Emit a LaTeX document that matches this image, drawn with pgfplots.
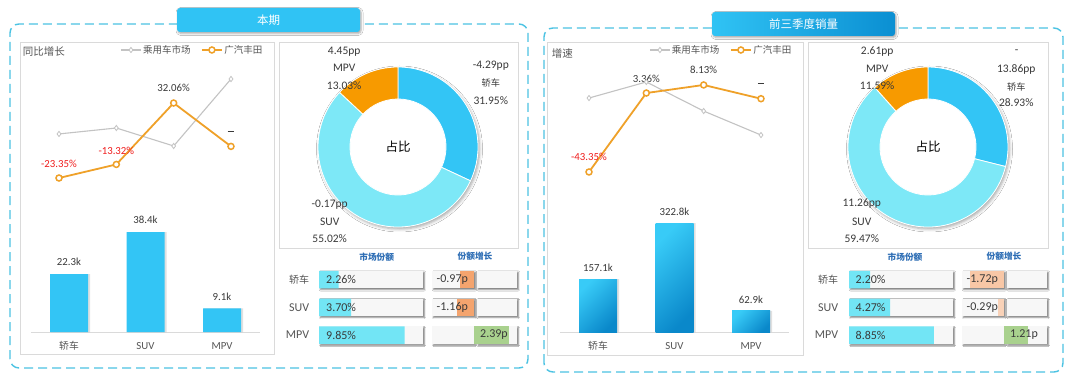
\documentclass[border=0pt]{standalone}
\usepackage{pgfplots}
\pgfplotsset{compat=1.18}
\usepackage{pgfplotstable}
\usepackage{fontspec}
\setmainfont{Carlito}
\newfontfamily\cjk{Noto Sans CJK SC}
\usetikzlibrary{shadows.blur}

\definecolor{cBlue}{HTML}{33C5F5}
\definecolor{cCyan}{HTML}{7DE8F7}
\definecolor{cOrange}{HTML}{F79A00}
\definecolor{lineOrange}{HTML}{EFA129}
\definecolor{lineGray}{HTML}{C3C3C3}
\definecolor{dashC}{HTML}{4CC3E3}
\definecolor{txt}{HTML}{3A3A3A}
\definecolor{txtL}{HTML}{555555}
\definecolor{hdr}{HTML}{2E6EB5}
\definecolor{shareC}{HTML}{72E5F5}
\definecolor{negA}{HTML}{F4A46E}
\definecolor{negB}{HTML}{F8C7A6}
\definecolor{negC}{HTML}{F9D2B8}
\definecolor{posG}{HTML}{A9D18E}
\definecolor{boxBG}{HTML}{F7F7F7}
\definecolor{panelB}{HTML}{DADADA}
\definecolor{titleA}{HTML}{30C3F4}
\definecolor{titleB}{HTML}{0B8FD2}
\definecolor{barL}{HTML}{38CBF7}
\definecolor{barD}{HTML}{0A88CA}
\definecolor{redL}{HTML}{F01E1E}

\newcommand{\fs}[1]{\fontsize{#1}{#1}\selectfont}
\newcommand{\emd}{\rule[2.6pt]{6.5pt}{0.9pt}}

% ---------------- data ----------------
\pgfplotstableread{
x mkt gac
0 9.2 -23.35
1 13.6 -13.32
2 0.3 32.06
3 49.8 0
}\lineA
\pgfplotstableread{
x mkt gac
0 0.4 -43.35
1 9.9 3.36
2 -7.3 8.13
3 -21.5 0
}\lineB

% donut shares (%)
\pgfmathsetmacro\LaA{90}
\pgfmathsetmacro\LaB{90-3.6*31.95}
\pgfmathsetmacro\LaC{\LaB-3.6*55.02}
\pgfmathsetmacro\LaD{\LaC-3.6*13.03}
\pgfmathsetmacro\RaA{90}
\pgfmathsetmacro\RaB{90-3.6*28.93}
\pgfmathsetmacro\RaC{\RaB-3.6*59.47}
\pgfmathsetmacro\RaD{\RaC-3.6*11.59}

\newcommand{\slice}[3]{%
  \fill[#3, draw=white, line width=0.8pt] ([shift={(#1:80pt)}]axis cs:0,0) arc[start angle=#1, end angle=#2, radius=80pt] -- ([shift={(#2:48pt)}]axis cs:0,0) arc[start angle=#2, end angle=#1, radius=48pt] -- cycle;}

\tikzset{
  tbox/.style={fill=boxBG, blur shadow={shadow xshift=1.4pt, shadow yshift=-1.4pt, shadow blur radius=1.4pt, shadow opacity=50}},
  dashbox/.style={dashC, line width=1.4pt, dash pattern=on 9pt off 5pt, rounded corners=9pt},
  panel/.style={draw=panelB, line width=0.6pt, fill=white},
}

\pgfplotsset{
  lchart/.style={anchor=south west, scale only axis, width=172pt, xmin=0, xmax=3, hide axis, clip=false,
    legend columns=2,
    legend style={draw=none, fill=none, inner sep=0pt, font=\cjk\fs{9.5}, text=txtL,
      /tikz/every even column/.append style={column sep=9pt}, nodes={inner sep=1.5pt}},
    legend image code/.code={\draw[mark repeat=2, mark phase=2, ##1] plot coordinates {(0pt,0pt) (10pt,0pt) (20pt,0pt)};}},
  mktline/.style={lineGray, line width=1.1pt, mark=diamond*, mark size=2.6pt, mark options={fill=white, draw=lineGray, line width=0.8pt}},
  gacline/.style={lineOrange, line width=1.8pt, mark=*, mark size=3pt, mark options={fill=white, draw=lineOrange, line width=1.5pt}},
  bchart/.style={anchor=south west, scale only axis, width=229.5pt, xmin=-0.5, xmax=2.5, ymin=0, hide axis, clip=false},
  tchart/.style={anchor=south west, scale only axis, height=83.25pt, ymin=-0.5, ymax=2.5, hide axis, clip=false},
  tbar/.style={xbar, bar width=17.5pt, bar shift=0pt, draw=none},
  dchart/.style={anchor=center, scale only axis, width=160pt, height=160pt, xmin=-1, xmax=1, ymin=-1, ymax=1, hide axis, clip=false},
}

\begin{document}
\begin{tikzpicture}[x=1pt,y=1pt]
\path[use as bounding box] (0,0) rectangle (1080,381);
\fill[white] (0,0) rectangle (1080,381);

% ---------- frames ----------
\draw[dashbox] (10,13) rectangle (528,357);
\draw[dashbox] (544,9) rectangle (1063,353);

\fill[titleA, rounded corners=3pt, blur shadow={shadow xshift=1pt, shadow yshift=-1.5pt, shadow blur radius=2pt, shadow opacity=35}] (177,349) rectangle (360,373);
\node[white, font=\cjk\fs{11.5}] at (268.5,361) {本期};
\shade[left color=titleA, right color=titleB, rounded corners=3pt, blur shadow={shadow xshift=1pt, shadow yshift=-1.5pt, shadow blur radius=2pt, shadow opacity=35}] (712,345) rectangle (895,369);
\node[white, font=\cjk\fs{11.5}] at (803.5,357) {前三季度销量};

\draw[panel] (20,27) rectangle (274,339);
\draw[panel] (279,133) rectangle (518,339);
\draw[panel] (547,26) rectangle (803,339);
\draw[panel] (808,133) rectangle (1048,339);

\node[anchor=west, inner sep=0pt, font=\cjk\fs{10.5}, text=txtL] at (22.7,329) {同比增长};
\node[anchor=west, inner sep=0pt, font=\cjk\fs{10.5}, text=txtL] at (551.7,327.7) {增速};

% ---------- left line chart ----------
\begin{axis}[lchart, at={(59pt,194pt)}, height=121.8pt, ymin=-30, ymax=60,
  legend style={at={(1.192,1.125)}, anchor=east}]
\addplot[mktline] table[x=x,y=mkt]{\lineA};
\addlegendentry{乘用车市场}
\addplot[gacline] table[x=x,y=gac]{\lineA};
\addlegendentry{广汽丰田}
\node[font=\fs{10.8}, text=redL] at ([yshift=14pt]axis cs:0,-23.35) {-23.35\%};
\node[font=\fs{10.8}, text=redL] at ([yshift=14pt]axis cs:1,-13.32) {-13.32\%};
\node[font=\fs{10.8}, text=txt] at ([yshift=14.7pt]axis cs:2,32.06) {32.06\%};
\node[font=\fs{10.8}, text=txt] at ([yshift=14pt]axis cs:3,0) {\emd};
\end{axis}

% ---------- right line chart ----------
\begin{axis}[lchart, at={(589pt,197.8pt)}, height=118.3pt, ymin=-50, ymax=20,
  legend style={at={(1.186,1.126)}, anchor=east}]
\addplot[mktline] table[x=x,y=mkt]{\lineB};
\addlegendentry{乘用车市场}
\addplot[gacline] table[x=x,y=gac]{\lineB};
\addlegendentry{广汽丰田}
\node[font=\fs{10.8}, text=redL] at ([yshift=15.5pt]axis cs:0,-43.35) {-43.35\%};
\node[font=\fs{10.8}, text=txt] at ([yshift=14pt]axis cs:1,3.36) {3.36\%};
\node[font=\fs{10.8}, text=txt] at ([yshift=15pt]axis cs:2,8.13) {8.13\%};
\node[font=\fs{10.8}, text=txt] at ([yshift=14.3pt]axis cs:3,0) {\emd};
\end{axis}

% ---------- left bar chart ----------
\begin{axis}[bchart, at={(30.75pt,49pt)}, height=130pt, ymax=50]
\draw[panelB, line width=0.7pt] (axis cs:-0.5,0) -- (axis cs:2.5,0);
\addplot[ybar, bar width=39pt, bar shift=1.5pt, fill=black, fill opacity=0.12, draw=none]
  coordinates {(0,22.3) (1,38.4) (2,9.1)};
\addplot[ybar, bar width=38pt, bar shift=0pt, fill=cBlue, draw=none]
  coordinates {(0,22.3) (1,38.4) (2,9.1)};
\node[font=\fs{10.8}, text=txt] at ([yshift=12pt]axis cs:0,22.3) {22.3k};
\node[font=\fs{10.8}, text=txt] at ([yshift=12pt]axis cs:1,38.4) {38.4k};
\node[font=\fs{10.8}, text=txt] at ([yshift=12pt]axis cs:2,9.1) {9.1k};
\node[anchor=base, font=\cjk\fs{9.8}, text=txtL] at ([yshift=-17.3pt]axis cs:0,0) {轿车};
\node[anchor=base, font=\fs{10.8}, text=txtL] at ([yshift=-17.3pt]axis cs:1,0) {SUV};
\node[anchor=base, font=\fs{10.8}, text=txtL] at ([yshift=-17.3pt]axis cs:2,0) {MPV};
\end{axis}

% ---------- right bar chart ----------
\begin{axis}[bchart, at={(559.75pt,49pt)}, height=134.8pt, ymax=400]
\draw[panelB, line width=0.7pt] (axis cs:-0.5,0) -- (axis cs:2.5,0);
\addplot[ybar, bar width=39pt, bar shift=1.5pt, fill=black, fill opacity=0.12, draw=none]
  coordinates {(0,157.1) (1,322.8) (2,62.9)};
\addplot[ybar, bar width=38pt, bar shift=0pt, draw=none, top color=barL, bottom color=barD, shading angle=45] coordinates {(0,157.1)};
\addplot[ybar, bar width=38pt, bar shift=0pt, draw=none, top color=barL, bottom color=barD, shading angle=45] coordinates {(1,322.8)};
\addplot[ybar, bar width=38pt, bar shift=0pt, draw=none, top color=barL, bottom color=barD, shading angle=45] coordinates {(2,62.9)};
\node[font=\fs{10.8}, text=txt] at ([yshift=11pt]axis cs:0,157.1) {157.1k};
\node[font=\fs{10.8}, text=txt] at ([yshift=11pt]axis cs:1,322.8) {322.8k};
\node[font=\fs{10.8}, text=txt] at ([yshift=11pt]axis cs:2,62.9) {62.9k};
\node[anchor=base, font=\cjk\fs{9.8}, text=txtL] at ([yshift=-17.3pt]axis cs:0,0) {轿车};
\node[anchor=base, font=\fs{10.8}, text=txtL] at ([yshift=-17.3pt]axis cs:1,0) {SUV};
\node[anchor=base, font=\fs{10.8}, text=txtL] at ([yshift=-17.3pt]axis cs:2,0) {MPV};
\end{axis}

% ---------- left donut ----------
\begin{axis}[dchart, at={(398pt,234pt)}]
\fill[white, blur shadow={shadow xshift=1.5pt, shadow yshift=-2pt, shadow blur radius=3pt, shadow opacity=35}] (axis cs:0,0) circle[radius=80pt];
\slice{\LaA}{\LaB}{cBlue}
\slice{\LaB}{\LaC}{cCyan}
\slice{\LaC}{\LaD}{cOrange}
\node[font=\cjk\fs{12.5}, text=black] at (axis cs:0,0) {占比};
\end{axis}

% ---------- right donut ----------
\begin{axis}[dchart, at={(928pt,234pt)}]
\fill[white, blur shadow={shadow xshift=1.5pt, shadow yshift=-2pt, shadow blur radius=3pt, shadow opacity=35}] (axis cs:0,0) circle[radius=80pt];
\slice{\RaA}{\RaB}{cBlue}
\slice{\RaB}{\RaC}{cCyan}
\slice{\RaC}{\RaD}{cOrange}
\node[font=\cjk\fs{12.5}, text=black] at (axis cs:0,0) {占比};
\end{axis}

% donut labels
\begin{scope}[every node/.style={font=\fs{11.5}, text=txt, inner sep=0pt}]
\node at (344.2,329.3) {4.45pp};
\node at (344.2,312.7) {MPV};
\node at (344.2,295) {13.03\%};
\node at (490.8,315) {-4.29pp};
\node[font=\cjk\fs{9.2}] at (490.8,297.7) {轿车};
\node at (490.8,280.3) {31.95\%};
\node at (329.7,176.7) {-0.17pp};
\node at (329.7,159.3) {SUV};
\node at (329.7,142) {55.02\%};
\node at (877.2,329.3) {2.61pp};
\node at (877.2,312) {MPV};
\node at (877.2,295) {11.59\%};
\node at (1016.7,329.3) {-};
\node at (1016.3,312) {13.86pp};
\node[font=\cjk\fs{9.2}] at (1016.3,294.3) {轿车};
\node at (1016.3,278.3) {28.93\%};
\node at (861.8,177) {11.26pp};
\node at (861.8,159.3) {SUV};
\node at (861.8,142) {59.47\%};
\end{scope}

% table headers & row labels
\begin{scope}[every node/.style={font=\cjk\bfseries\fs{8.7}, text=hdr, inner sep=0pt}]
\node at (376.7,124.3) {市场份额};
\node at (475,124.3) {份额增长};
\node at (905,124.3) {市场份额};
\node at (1004,124.3) {份额增长};
\end{scope}
\begin{scope}[every node/.style={anchor=east, inner sep=0pt, text=txtL}]
\node[font=\cjk\fs{10}] at (309.3,101) {轿车};
\node[font=\fs{12}] at (309.3,73.3) {SUV};
\node[font=\fs{12}] at (309.3,46) {MPV};
\node[font=\cjk\fs{10}] at (838.3,101) {轿车};
\node[font=\fs{12}] at (838.3,73.3) {SUV};
\node[font=\fs{12}] at (838.3,46) {MPV};
\end{scope}

% ---------- left market share ----------
\begin{axis}[tchart, at={(319pt,32.1pt)}, width=104pt, xmin=0, xmax=11.95]
\fill[tbox] (axis cs:0,1.685) rectangle (axis cs:11.95,2.315);
\fill[tbox] (axis cs:0,0.685) rectangle (axis cs:11.95,1.315);
\fill[tbox] (axis cs:0,-0.315) rectangle (axis cs:11.95,0.315);
\addplot[tbar, fill=shareC] coordinates {(2.26,2) (3.70,1) (9.85,0)};
\node[anchor=west, inner sep=0pt, font=\fs{12}, text=txt] at ([xshift=7pt]axis cs:0,2) {2.26\%};
\node[anchor=west, inner sep=0pt, font=\fs{12}, text=txt] at ([xshift=7pt]axis cs:0,1) {3.70\%};
\node[anchor=west, inner sep=0pt, font=\fs{12}, text=txt] at ([xshift=7pt]axis cs:0,0) {9.85\%};
\end{axis}

% ---------- left share growth ----------
\begin{axis}[tchart, at={(432pt,32.1pt)}, width=85pt, xmin=-2.9, xmax=2.95]
\fill[tbox] (axis cs:-2.9,1.685) rectangle (axis cs:0,2.315);
\fill[tbox] ([xshift=2.5pt]axis cs:0,1.685) rectangle (axis cs:2.95,2.315);
\fill[tbox] (axis cs:-2.9,0.685) rectangle (axis cs:0,1.315);
\fill[tbox] ([xshift=2.5pt]axis cs:0,0.685) rectangle (axis cs:2.95,1.315);
\fill[tbox] (axis cs:-2.9,-0.315) rectangle (axis cs:0,0.315);
\fill[tbox] ([xshift=2.5pt]axis cs:0,-0.315) rectangle (axis cs:2.95,0.315);
\addplot[tbar, fill=negA] coordinates {(-0.97,2)};
\addplot[tbar, fill=negA] coordinates {(-1.16,1)};
\addplot[tbar, fill=posG] coordinates {(2.39,0)};
\node[anchor=west, inner sep=0pt, font=\fs{12}, text=txt] at ([xshift=4.5pt]axis cs:-2.9,2) {-0.97p};
\node[anchor=west, inner sep=0pt, font=\fs{12}, text=txt] at ([xshift=4.5pt]axis cs:-2.9,1) {-1.16p};
\node[anchor=east, inner sep=0pt, font=\fs{12}, text=txt] at ([xshift=-9pt]axis cs:2.95,0) {2.39p};
\end{axis}

% ---------- right market share ----------
\begin{axis}[tchart, at={(849pt,32.1pt)}, width=104pt, xmin=0, xmax=10.83]
\fill[tbox] (axis cs:0,1.685) rectangle (axis cs:10.83,2.315);
\fill[tbox] (axis cs:0,0.685) rectangle (axis cs:10.83,1.315);
\fill[tbox] (axis cs:0,-0.315) rectangle (axis cs:10.83,0.315);
\addplot[tbar, fill=shareC] coordinates {(2.20,2) (4.27,1) (8.85,0)};
\node[anchor=west, inner sep=0pt, font=\fs{12}, text=txt] at ([xshift=6.5pt]axis cs:0,2) {2.20\%};
\node[anchor=west, inner sep=0pt, font=\fs{12}, text=txt] at ([xshift=6.5pt]axis cs:0,1) {4.27\%};
\node[anchor=west, inner sep=0pt, font=\fs{12}, text=txt] at ([xshift=6.5pt]axis cs:0,0) {8.85\%};
\end{axis}

% ---------- right share growth ----------
\begin{axis}[tchart, at={(962pt,32.1pt)}, width=85pt, xmin=-2.1, xmax=2.15]
\fill[tbox] (axis cs:-2.1,1.685) rectangle (axis cs:0,2.315);
\fill[tbox] ([xshift=2.5pt]axis cs:0,1.685) rectangle (axis cs:2.15,2.315);
\fill[tbox] (axis cs:-2.1,0.685) rectangle (axis cs:0,1.315);
\fill[tbox] ([xshift=2.5pt]axis cs:0,0.685) rectangle (axis cs:2.15,1.315);
\fill[tbox] (axis cs:-2.1,-0.315) rectangle (axis cs:0,0.315);
\fill[tbox] ([xshift=2.5pt]axis cs:0,-0.315) rectangle (axis cs:2.15,0.315);
\addplot[tbar, fill=negB] coordinates {(-1.72,2)};
\addplot[tbar, fill=negC] coordinates {(-0.29,1)};
\addplot[tbar, fill=posG] coordinates {(1.21,0)};
\node[anchor=west, inner sep=0pt, font=\fs{12}, text=txt] at ([xshift=4.5pt]axis cs:-2.1,2) {-1.72p};
\node[anchor=west, inner sep=0pt, font=\fs{12}, text=txt] at ([xshift=4.5pt]axis cs:-2.1,1) {-0.29p};
\node[anchor=east, inner sep=0pt, font=\fs{12}, text=txt] at ([xshift=-9pt]axis cs:2.15,0) {1.21p};
\end{axis}

\end{tikzpicture}
\end{document}
